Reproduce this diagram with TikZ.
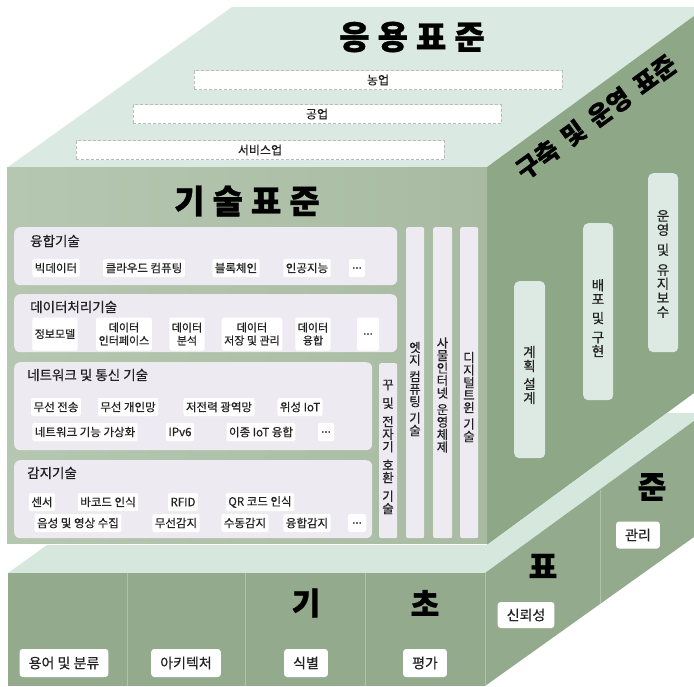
\documentclass[tikz,border=0pt]{standalone}
\usepackage{fontspec}
\setmainfont{Noto Sans CJK KR}
\newfontfamily\krmed[FakeBold=0.5]{Noto Sans CJK KR}
\newfontfamily\krheavy[FakeBold=1]{Noto Sans CJK KR}
\definecolor{topc}{HTML}{DBE9E3}
\definecolor{frontl}{HTML}{B6C7B1}
\definecolor{frontr}{HTML}{A8BBA2}
\definecolor{rightc}{HTML}{8EA887}
\definecolor{bandc}{HTML}{D6E7DD}
\definecolor{botc}{HTML}{93AB8C}
\definecolor{panelc}{HTML}{EDEAF1}
\definecolor{rboxc}{HTML}{DDEAE4}
\definecolor{divc}{HTML}{AFC3AA}
\definecolor{dashc}{HTML}{BBBBBB}
\definecolor{txtc}{HTML}{222222}
\begin{document}
\begin{tikzpicture}[x=1pt,y=-1pt,
  item/.style={fill=white, rounded corners=2pt, inner xsep=2.5pt, inner ysep=1pt, minimum height=18pt, text=txtc, font=\krmed\fontsize{11.5}{13}\selectfont},
  itemtwo/.style={item, align=center, minimum height=33pt, font=\krmed\fontsize{11}{13}\selectfont},
  panel/.style={fill=panelc, rounded corners=6pt, anchor=north west, inner sep=0pt},
  ptitle/.style={anchor=west, inner sep=0pt, font=\krmed\fontsize{13.5}{15}\selectfont, text=txtc},
  colbox/.style={fill=panelc, rounded corners=2pt, anchor=north west, inner sep=0pt},
  coltext/.style={align=center, inner sep=0pt, text=txtc, font=\krmed\fontsize{12.5}{12.5}\selectfont},
  rbox/.style={fill=rboxc, rounded corners=5pt, anchor=north west, inner sep=0pt},
  rtext/.style={align=center, inner sep=0pt, text=txtc, font=\krmed\fontsize{13.5}{14}\selectfont},
  dbox/.style={fill=white, draw=dashc, dash pattern=on 3pt off 2pt, minimum width=368pt, minimum height=19pt, inner sep=0pt, text=txtc, font=\krmed\fontsize{12}{13}\selectfont},
  lbox/.style={fill=white, rounded corners=3pt, inner xsep=9pt, minimum height=28pt, text=txtc, font=\krmed\fontsize{14}{15}\selectfont},
  bigt/.style={inner sep=0pt, font=\krheavy\bfseries\fontsize{33}{35}\selectfont},
  midt/.style={inner sep=0pt, font=\krheavy\bfseries\fontsize{31}{33}\selectfont},
  divline/.style={draw=divc, line width=0.8pt}
]
\useasboundingbox (0,0) rectangle (694,686);
\fill[white] (0,0) rectangle (694,686);
% top face
\fill[topc] (8,167) -- (487,167) -- (694,16) -- (694,7) -- (232,7) -- cycle;
% right face of middle block
\fill[rightc] (487,167) -- (694,16) -- (694,393) -- (487,545) -- cycle;
% front face of middle block
\shade[left color=frontl, right color=frontr] (7,167) rectangle (487,543);
% band (top of base block)
\fill[bandc] (8,573) -- (47,545) -- (487,545) -- (667,413) -- (694,413) -- (694,421) -- (485,573) -- cycle;
% base front
\fill[botc] (8,573) rectangle (485,686);
% base right
\fill[botc] (485,573) -- (694,421) -- (694,537) -- (485,686) -- cycle;
\coordinate (d1a) at (127,573); \coordinate (d1b) at (127,686);
\coordinate (d2a) at (245,573); \coordinate (d2b) at (245,686);
\coordinate (d3a) at (365,573); \coordinate (d3b) at (365,686);
\coordinate (d4a) at (485,573); \coordinate (d4b) at (485,686);
\coordinate (d5a) at (600,489.5); \coordinate (d5b) at (600,602.5);
\draw[divline] (d1a) -- (d1b);
\draw[divline] (d2a) -- (d2b);
\draw[divline] (d3a) -- (d3b);
\draw[divline] (d4a) -- (d4b);
\draw[divline] (d5a) -- (d5b);

% top face content
\node[bigt] (apptitle) at (412,37) {응\hspace{8pt}용\hspace{8pt}표\hspace{8pt}준};
\node[dbox] (agri) at (378,80) {농업};
\node[dbox] (ind) at (317,114) {공업};
\node[dbox] (serv) at (260,150) {서비스업};

% right face title
\node[rotate=36, inner sep=0pt, font=\krheavy\bfseries\fontsize{25}{27}\selectfont] (optitle) at (596,117) {구축\hspace{10pt}및\hspace{10pt}운영\hspace{10pt}표준};

% front title
\node[bigt] (techtitle) at (247,201) {기\hspace{8pt}술\hspace{8pt}표\hspace{8pt}준};

% panel 1
\node[panel, minimum width=383pt, minimum height=58pt] (p1) at (14,227) {};
\node[ptitle] (p1t) at (30,241) {융합기술};
\node[item] (i11) at (56,268) {빅데이터};
\node[item] (i12) at (144,268) {클라우드 컴퓨팅};
\node[item] (i13) at (236,268) {블록체인};
\node[item] (i14) at (307,268) {인공지능};
\node[item, minimum width=16pt] (i15) at (357,268) {...};

% panel 2
\node[panel, minimum width=383pt, minimum height=58pt] (p2) at (14,294) {};
\node[ptitle] (p2t) at (30,307) {데이터처리기술};
\node[itemtwo] (i21) at (55,334) {정보모델};
\node[itemtwo] (i22) at (124,334) {데이터\\인터페이스};
\node[itemtwo] (i23) at (187,334) {데이터\\분석};
\node[itemtwo] (i24) at (252,334) {데이터\\저장 및 관리};
\node[itemtwo] (i25) at (313,334) {데이터\\융합};
\node[itemtwo, minimum width=22pt] (i26) at (368,334) {...};

% panel 3
\node[panel, minimum width=358pt, minimum height=88pt] (p3) at (14,362) {};
\node[ptitle] (p3t) at (27,375) {네트워크 및 통신 기술};
\node[item] (i31) at (56,407) {무선 전송};
\node[item] (i32) at (128,407) {무선 개인망};
\node[item] (i33) at (219,407) {저전력 광역망};
\node[item] (i34) at (300,407) {위성 IoT};
\node[item] (i35) at (85,432) {네트워크 기능 가상화};
\node[item] (i36) at (180,432) {IPv6};
\node[item] (i37) at (261,432) {이종 IoT 융합};
\node[item, minimum width=16pt] (i38) at (326,432) {...};

% panel 4
\node[panel, minimum width=358pt, minimum height=78pt] (p4) at (14,460) {};
\node[ptitle] (p4t) at (27,473) {감지기술};
\node[item] (i41) at (42,502) {센서};
\node[item] (i42) at (108,502) {바코드 인식};
\node[item] (i43) at (183,502) {RFID};
\node[item] (i44) at (260,502) {QR 코드 인식};
\node[item] (i45) at (78,523) {음성 및 영상 수집};
\node[item] (i46) at (176,523) {무선감지};
\node[item] (i47) at (245,523) {수동감지};
\node[item] (i48) at (307,523) {융합감지};
\node[item, minimum width=18pt] (i49) at (357,523) {...};

% vertical columns
\node[colbox, minimum width=18pt, minimum height=175pt] (c0) at (379,363) {};
\node[colbox, minimum width=18pt, minimum height=311pt] (c1) at (406,227) {};
\node[colbox, minimum width=19pt, minimum height=311pt] (c2) at (433,227) {};
\node[colbox, minimum width=18pt, minimum height=311pt] (c3) at (460,227) {};
\node[coltext] (c0t) at (388,447) {꾸\\[6pt]및\\[6pt]전\\자\\기\\[6pt]호\\환\\[6pt]기\\술};
\node[coltext] (c1t) at (415,389) {엣\\지\\[4pt]컴\\퓨\\팅\\[4pt]기\\술};
\node[coltext] (c2t) at (442.5,395) {사\\물\\인\\터\\넷\\[4pt]운\\영\\체\\제};
\node[coltext] (c3t) at (469,397) {디\\지\\털\\트\\윈\\[4pt]기\\술};

% right face boxes
\node[rbox, minimum width=31pt, minimum height=177pt] (r1) at (514,281) {};
\node[rbox, minimum width=30pt, minimum height=177pt] (r2) at (583,223) {};
\node[rbox, minimum width=30pt, minimum height=179pt] (r3) at (648,173) {};
\node[rtext] (r1t) at (529.5,375) {계\\획\\[4pt]설\\계};
\node[rtext] (r2t) at (598,318) {배\\포\\[5pt]및\\[5pt]구\\현};
\node[rtext] (r3t) at (663,264) {운\\영\\[6pt]및\\[6pt]유\\지\\보\\수};

% base labels
\node[midt] (bk1) at (306,603) {기};
\node[midt] (bk2) at (425,603) {초};
\node[midt] (bk3) at (543,566) {표};
\node[midt] (bk4) at (652,487) {준};
\node[lbox] (b1) at (64,663) {용어 및 분류};
\node[lbox] (b2) at (186,663) {아키텍처};
\node[lbox] (b3) at (306,663) {식별};
\node[lbox] (b4) at (425,663) {평가};
\node[lbox, minimum height=26pt] (b5) at (526,615) {신뢰성};
\node[lbox, minimum height=27pt] (b6) at (638,535) {관리};
\end{tikzpicture}
\end{document}
